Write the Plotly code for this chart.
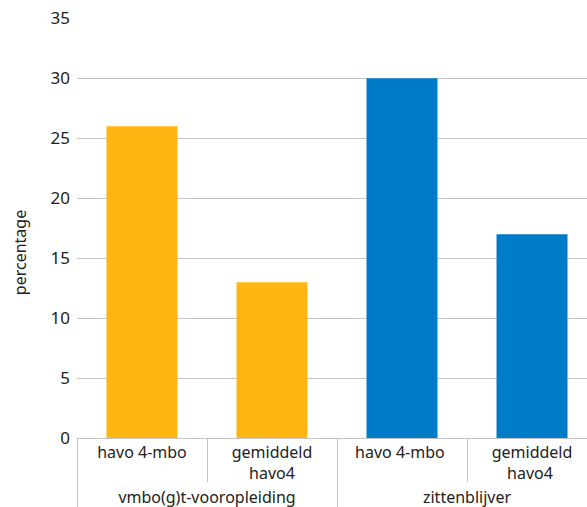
import plotly.graph_objects as go

groups = ["vmbo(g)t-vooropleiding", "vmbo(g)t-vooropleiding", "zittenblijver", "zittenblijver"]
subcats = ["havo 4-mbo", "gemiddeld<br>havo4", "havo 4-mbo ", "gemiddeld<br>havo4 "]
values = [26, 13, 30, 17]
colors = ["#FFB612", "#FFB612", "#007BC7", "#007BC7"]
y_ticks = [0, 5, 10, 15, 20, 25, 30, 35]

FONT = "Noto Sans"
GRID = "#c4c4c4"

fig = go.Figure(go.Bar(
    x=[groups, subcats],
    y=values,
    marker=dict(color=colors, line=dict(width=0)),
    hoverinfo="skip",
))

fig.update_layout(
    width=587, height=507,
    margin=dict(l=77, r=0, t=18, b=69),
    paper_bgcolor="white", plot_bgcolor="white",
    bargap=0.454,
    showlegend=False,
    font=dict(family=FONT, size=17, color="#222222"),
    xaxis=dict(
        type="multicategory",
        automargin=False,
        range=[-0.5, 3.423],
        showline=True, linecolor=GRID, linewidth=1,
        ticks="outside", tickson="boundaries", ticklen=43, tickcolor=GRID, tickwidth=1,
        showdividers=True, dividercolor=GRID, dividerwidth=1,
        tickfont=dict(family=FONT, size=16, color="#222222"),
        showgrid=False,
    ),
    yaxis=dict(
        automargin=False,
        range=[0, 35.03],
        tickvals=y_ticks,
        showgrid=True, gridcolor=GRID, gridwidth=1,
        zeroline=False,
        ticks="", ticklabelstandoff=6,
        ticklabeloverflow="allow",
        tickfont=dict(family=FONT, size=17, color="#222222"),
    ),
    annotations=[dict(
        text="percentage", xref="paper", yref="paper",
        x=-57/510, y=0.44, xanchor="center", yanchor="middle",
        textangle=-90, showarrow=False,
        font=dict(family=FONT, size=16, color="#222222"),
    )],
)

fig.write_html(
    "out.html",
    config={"displayModeBar": False},
    post_script="document.body.style.margin='0';",
)
